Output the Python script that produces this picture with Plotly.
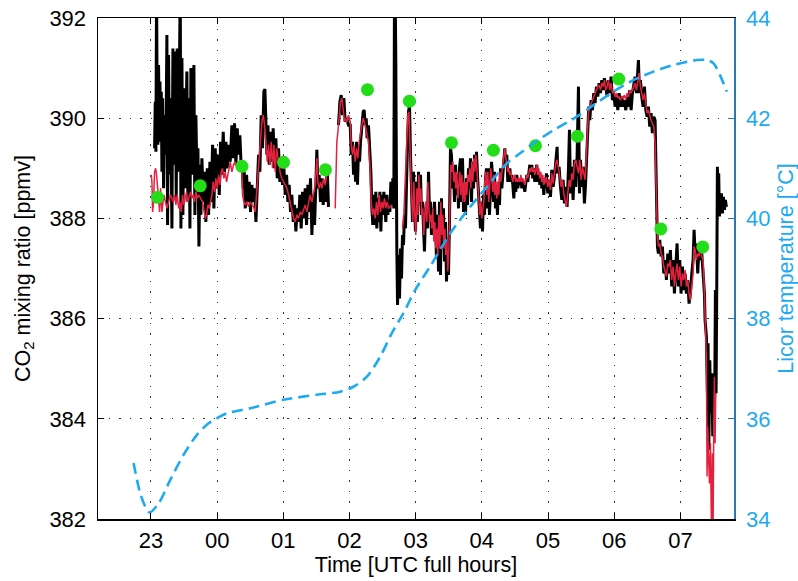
import plotly.graph_objects as go

# ---------------- data (hours; 24 = 00 UTC) ----------------
tick_hours = [23, 24, 25, 26, 27, 28, 29, 30, 31]
tick_labels = ["23", "00", "01", "02", "03", "04", "05", "06", "07"]

# raw CO2 (black)
co2_time_black = [
    23.055, 23.065, 23.075, 23.085, 23.095, 23.105, 23.115, 23.125, 23.136, 23.146, 23.156, 23.166, 23.176, 23.191,
    23.206, 23.226, 23.241, 23.251, 23.266, 23.282, 23.297, 23.317, 23.332, 23.347, 23.367, 23.382, 23.397, 23.412,
    23.428, 23.443, 23.453, 23.468, 23.483, 23.498, 23.513, 23.528, 23.543, 23.558, 23.574, 23.589, 23.604, 23.619,
    23.634, 23.649, 23.664, 23.679, 23.694, 23.710, 23.725, 23.740, 23.755, 23.770, 23.790, 23.810, 23.830, 23.851,
    23.871, 23.891, 23.911, 23.931, 23.951, 23.971, 23.992, 24.012, 24.032, 24.052, 24.072, 24.092, 24.112, 24.133,
    24.153, 24.173, 24.198, 24.223, 24.243, 24.263, 24.284, 24.304, 24.324, 24.344, 24.364, 24.379, 24.394, 24.409,
    24.425, 24.445, 24.465, 24.485, 24.505, 24.525, 24.545, 24.566, 24.586, 24.606, 24.626, 24.646, 24.666, 24.686,
    24.706, 24.722, 24.737, 24.752, 24.767, 24.787, 24.807, 24.827, 24.847, 24.867, 24.888, 24.908, 24.928, 24.948,
    24.968, 24.988, 25.009, 25.029, 25.049, 25.069, 25.089, 25.109, 25.129, 25.150, 25.170, 25.190, 25.210, 25.230,
    25.250, 25.270, 25.291, 25.311, 25.331, 25.351, 25.371, 25.391, 25.411, 25.432, 25.452, 25.472, 25.492, 25.507,
    25.522, 25.542, 25.562, 25.583, 25.603, 25.623, 25.643, 25.663, 25.683, 25.760,
    25.834, 25.855, 25.875, 25.895, 25.915, 25.935, 25.960, 25.985, 26.011, 26.026, 26.046, 26.061, 26.076, 26.091,
    26.106, 26.121, 26.136, 26.152, 26.167, 26.187, 26.207, 26.222, 26.237, 26.252, 26.267, 26.287, 26.308, 26.323,
    26.338, 26.353, 26.368, 26.383, 26.398, 26.413, 26.428, 26.444, 26.459, 26.474, 26.489, 26.504, 26.519, 26.534,
    26.549, 26.564, 26.580, 26.595, 26.610, 26.625, 26.640, 26.655, 26.670, 26.680, 26.690, 26.700, 26.705, 26.715,
    26.726, 26.741, 26.756, 26.771, 26.786, 26.801, 26.816, 26.831, 26.846, 26.861, 26.877, 26.892, 26.907, 26.922,
    26.937, 26.952, 26.967, 26.982, 26.997, 27.013, 27.028, 27.043, 27.058, 27.073, 27.088, 27.103, 27.118, 27.133,
    27.148, 27.164, 27.179, 27.194, 27.209, 27.224, 27.239, 27.254, 27.269, 27.284, 27.300, 27.315, 27.330, 27.345,
    27.360, 27.375, 27.390, 27.405, 27.420, 27.436, 27.451, 27.466, 27.481, 27.496, 27.511, 27.526, 27.541, 27.556,
    27.572, 27.587, 27.602, 27.617, 27.632, 27.647, 27.662, 27.677, 27.692, 27.708, 27.723, 27.738, 27.753, 27.768,
    27.783, 27.798, 27.813, 27.828, 27.844, 27.859, 27.874, 27.889, 27.904, 27.919, 27.934, 27.949, 27.964, 27.979,
    27.995, 28.010, 28.025, 28.040, 28.055, 28.070, 28.085, 28.100, 28.115, 28.131, 28.146, 28.161, 28.176, 28.191,
    28.206, 28.221, 28.236, 28.251, 28.267, 28.282, 28.302, 28.317, 28.332, 28.347, 28.362, 28.377, 28.392, 28.408,
    28.423, 28.438, 28.453, 28.468, 28.483, 28.498, 28.513, 28.528, 28.543, 28.558, 28.574, 28.589, 28.604, 28.619,
    28.634, 28.649, 28.664, 28.679, 28.694, 28.709, 28.725, 28.740, 28.755, 28.770, 28.785, 28.800, 28.815, 28.830,
    28.845, 28.861, 28.876, 28.891, 28.906, 28.921, 28.936, 28.951,
    28.956, 28.976, 28.996, 29.016, 29.037, 29.057, 29.077, 29.097, 29.117, 29.137, 29.147, 29.167, 29.188, 29.208,
    29.228, 29.248, 29.268, 29.288, 29.308, 29.324, 29.339, 29.359, 29.379, 29.399, 29.419, 29.439, 29.460, 29.475,
    29.490, 29.510, 29.530, 29.550, 29.565, 29.580, 29.600, 29.616, 29.631, 29.651, 29.671, 29.691, 29.711, 29.731,
    29.752, 29.772, 29.792, 29.812, 29.832, 29.852, 29.872, 29.893, 29.913, 29.933, 29.953, 29.973, 29.993, 30.013,
    30.034, 30.054, 30.074, 30.094, 30.114, 30.134, 30.154, 30.175, 30.195, 30.215, 30.235, 30.255, 30.275, 30.295,
    30.316, 30.336, 30.356, 30.366, 30.381, 30.396, 30.416, 30.436, 30.457, 30.477, 30.497, 30.517, 30.537, 30.557,
    30.577, 30.598, 30.618, 30.633, 30.643, 30.653, 30.668, 30.688, 30.708, 30.728, 30.749, 30.769, 30.789, 30.809,
    30.829, 30.849, 30.869, 30.889, 30.910, 30.930, 30.950, 30.970, 30.990, 31.010, 31.031, 31.051, 31.071, 31.091,
    31.111, 31.131, 31.151, 31.172, 31.192, 31.207, 31.222, 31.242, 31.262, 31.282, 31.303, 31.323, 31.343, 31.363,
    31.373, 31.393, 31.408, 31.418, 31.429, 31.444, 31.459, 31.474, 31.489, 31.504, 31.519, 31.529, 31.539, 31.549,
    31.559, 31.569, 31.579, 31.589, 31.604, 31.620, 31.635, 31.650, 31.665, 31.680, 31.695,
]
co2_black = [
    389.40, 390.33, 389.33, 392.60, 390.06, 389.47, 391.06, 389.86, 390.73, 389.53, 390.53, 388.93, 390.40, 388.60,
    390.06, 389.27, 391.66, 387.87, 391.26, 388.87, 390.40, 387.80, 391.39, 389.07, 391.33, 388.40, 391.39, 388.93,
    390.73, 392.60, 387.80, 391.20, 388.07, 390.60, 388.60, 390.06, 390.93, 388.33, 390.40, 387.80, 391.00, 388.87,
    390.20, 391.06, 388.07, 390.06, 388.93, 389.40, 387.44, 389.07, 388.07, 389.20, 388.33, 388.93, 387.93, 389.00,
    388.07, 389.13, 388.33, 389.47, 388.20, 389.40, 388.60, 389.27, 388.47, 389.53, 388.87, 389.73, 388.93, 389.53,
    389.00, 389.47, 389.13, 389.86, 389.20, 389.90, 389.07, 389.80, 389.27, 389.66, 389.00, 389.13, 388.60, 388.93,
    388.20, 388.87, 388.33, 388.73, 388.13, 388.67, 388.33, 388.60, 387.93, 388.73, 389.27, 388.93, 390.06, 389.40,
    390.53, 390.58, 390.06, 389.27, 389.86, 389.07, 389.73, 389.13, 389.80, 389.00, 389.60, 388.80, 389.40, 388.73,
    389.20, 388.67, 389.00, 388.47, 388.87, 388.33, 388.67, 388.13, 388.47, 387.93, 388.27, 387.74, 388.20, 387.93,
    388.47, 387.80, 388.53, 388.00, 388.60, 387.87, 388.67, 388.13, 388.80, 387.67, 388.47, 387.87, 388.67, 389.37,
    388.60, 388.87, 388.33, 388.80, 388.27, 388.73, 388.33, 389.00, 388.23, None,
    389.86, 390.33, 390.46, 390.06, 390.40, 389.93, 390.00, 389.86, 389.86, 389.27, 389.53, 388.87, 389.40, 388.73,
    389.53, 388.67, 389.40, 389.13, 389.53, 389.80, 390.13, 390.16, 389.86, 390.00, 389.60, 389.86, 389.40, 388.93,
    388.20, 387.87, 388.47, 387.87, 388.53, 387.80, 388.40, 387.93, 388.53, 387.74, 388.47, 388.07, 388.53, 388.20,
    387.93, 388.47, 388.07, 388.33, 388.13, 388.73, 388.27, 388.80, 388.20, 392.60, 392.60, 391.13, 388.00, 387.40,
    386.27, 387.27, 386.40, 387.40, 386.80, 387.67, 387.47, 388.07, 387.80, 389.07, 389.53, 390.13, 390.26, 389.27,
    388.60, 387.93, 388.93, 388.20, 387.74, 388.73, 387.93, 388.93, 388.33, 388.87, 388.07, 388.33, 387.74, 387.34,
    388.07, 388.33, 387.80, 388.93, 388.07, 388.33, 387.67, 388.20, 387.93, 388.33, 387.80, 387.20, 388.07, 386.94,
    388.33, 386.87, 388.40, 387.40, 388.20, 387.14, 387.93, 386.74, 387.40, 386.87, 387.93, 389.40, 389.27, 388.60,
    388.93, 388.33, 389.07, 388.47, 388.87, 388.20, 389.00, 389.20, 388.33, 389.20, 388.13, 388.60, 388.07, 388.80,
    388.27, 389.00, 388.60, 389.20, 388.33, 389.13, 388.60, 389.27, 388.73, 389.33, 388.87, 388.47, 388.07, 387.80,
    388.33, 387.74, 388.47, 388.07, 388.80, 389.00, 388.20, 389.00, 388.07, 388.60, 389.13, 388.87, 388.33, 388.93,
    388.20, 388.53, 388.07, 388.73, 388.27, 389.00, 388.60, 388.87, 389.20, 389.40, 389.07, 389.27, 388.73, 388.87,
    389.00, 388.73, 388.87, 388.67, 388.40, 388.80, 388.53, 388.87, 388.60, 388.73, 388.67, 388.80, 388.60, 388.73,
    388.67, 388.53, 388.67, 388.87, 388.73, 388.93, 389.07, 388.87, 389.07, 388.80, 389.00, 388.73, 388.93, 389.07,
    388.73, 388.93, 388.67, 388.87, 388.60, 388.80, 388.47, 388.73,
    388.63, 388.90, 388.50, 388.77, 388.43, 388.97, 388.63, 388.83, 389.17, 389.43, 388.90, 389.03, 388.63, 388.37,
    388.77, 388.30, 388.63, 388.23, 388.97, 389.77, 388.50, 389.03, 388.37, 389.17, 388.63, 389.23, 390.63, 388.50,
    389.17, 388.63, 389.03, 388.30, 388.63, 389.03, 389.83, 390.23, 389.96, 390.36, 390.16, 390.50, 390.30, 390.63,
    390.43, 390.70, 390.50, 390.76, 390.56, 390.80, 390.63, 390.43, 390.76, 390.50, 390.83, 390.36, 390.50, 390.23,
    390.43, 390.16, 390.50, 390.23, 390.43, 390.23, 390.36, 390.16, 390.43, 390.23, 390.56, 390.16, 390.50, 390.63,
    390.83, 390.50, 390.90, 391.16, 390.50, 390.76, 390.43, 390.23, 390.63, 390.16, 390.03, 390.23, 389.83, 390.10,
    389.70, 390.03, 389.96, 389.17, 388.17, 387.44, 387.30, 387.57, 387.24, 387.44, 386.90, 387.17, 386.77, 387.30,
    386.90, 387.37, 386.64, 387.17, 386.50, 387.04, 387.50, 386.64, 387.17, 386.50, 387.04, 386.57, 386.90, 386.50,
    386.77, 386.30, 386.50, 386.90, 387.17, 387.77, 387.30, 387.50, 386.90, 387.44, 387.17, 387.30, 386.84, 386.50,
    385.97, 385.64, 384.51, 385.51, 383.38, 385.17, 384.11, 384.91, 383.65, 384.11, 384.51, 386.57, 384.51, 386.50,
    389.03, 388.37, 388.90, 388.04, 388.30, 388.50, 388.10, 388.43, 388.17, 388.37, 388.23,
]

# filtered CO2 (red)
co2_time_red = [
    23.005, 23.015, 23.025, 23.040, 23.055, 23.070, 23.085, 23.100, 23.115, 23.131, 23.146, 23.166, 23.196, 23.216,
    23.241, 23.266, 23.292, 23.317, 23.337, 23.357, 23.377, 23.397, 23.418, 23.438, 23.458, 23.478, 23.498, 23.518,
    23.538, 23.558, 23.579, 23.599, 23.619, 23.639, 23.659, 23.679, 23.699, 23.720, 23.780, 23.800, 23.820, 23.840,
    23.861, 23.881, 23.901, 23.921, 23.941, 23.961, 23.981, 24.002, 24.022, 24.042, 24.062, 24.082, 24.102, 24.122,
    24.143, 24.173, 24.198, 24.223, 24.248, 24.273, 24.299, 24.324, 24.374, 24.384, 24.404, 24.425, 24.450, 24.475,
    24.500, 24.525, 24.550, 24.576, 24.601, 24.626, 24.651, 24.676, 24.696, 24.717, 24.737, 24.757, 24.777, 24.797,
    24.817, 24.837, 24.857, 24.878, 24.898, 24.918, 24.938, 24.958, 24.978, 25.004, 25.029, 25.054, 25.079, 25.104,
    25.129, 25.155, 25.180, 25.205, 25.230, 25.255, 25.281, 25.306, 25.331, 25.356, 25.381, 25.406, 25.432, 25.457,
    25.482, 25.507, 25.522, 25.542, 25.562, 25.583, 25.608, 25.633, 25.658, 25.683, 25.735,
    25.784, 25.794, 25.809, 25.825, 25.845, 25.865, 25.885, 25.905, 25.925,
    25.935, 25.960, 25.985, 26.011, 26.026, 26.046, 26.066, 26.086, 26.106, 26.126, 26.146, 26.167, 26.187, 26.207,
    26.227, 26.247, 26.267, 26.287, 26.308, 26.328, 26.348, 26.368, 26.388, 26.408, 26.428, 26.449, 26.469, 26.489,
    26.509, 26.529, 26.549, 26.569, 26.590, 26.640, 26.720,
    26.801, 26.821, 26.841, 26.861, 26.882, 26.897, 26.912, 26.927, 26.942, 26.957, 26.972, 26.987, 27.002, 27.018,
    27.033, 27.048, 27.063, 27.078, 27.093, 27.108, 27.123, 27.138, 27.153, 27.169, 27.184, 27.199, 27.214, 27.229,
    27.244, 27.259, 27.274, 27.290, 27.305, 27.320, 27.335, 27.350, 27.365, 27.380, 27.395, 27.410, 27.426, 27.441,
    27.456, 27.471, 27.486, 27.501, 27.516, 27.531, 27.546, 27.562, 27.577, 27.592, 27.607, 27.622, 27.637, 27.652,
    27.667, 27.682, 27.697, 27.713, 27.728, 27.743, 27.758, 27.773, 27.788, 27.803, 27.818, 27.833, 27.848, 27.864,
    27.879, 27.894, 27.909, 27.924, 27.939, 27.954, 27.969, 27.984, 28.000, 28.015, 28.030, 28.045, 28.060, 28.075,
    28.090, 28.105, 28.120, 28.135, 28.151, 28.166, 28.181, 28.196, 28.211, 28.226, 28.241, 28.256, 28.271, 28.287,
    28.302, 28.317, 28.332, 28.347, 28.362, 28.377, 28.392, 28.408, 28.423, 28.438, 28.453, 28.468, 28.483, 28.498,
    28.513, 28.528, 28.543, 28.558, 28.574, 28.589, 28.604, 28.619, 28.634, 28.649, 28.664, 28.679, 28.694, 28.709,
    28.725, 28.740, 28.755, 28.770, 28.785, 28.800, 28.815, 28.830, 28.845, 28.861, 28.876, 28.891, 28.906, 28.921,
    28.936, 28.951,
    28.956, 28.976, 28.996, 29.016, 29.037, 29.057, 29.077, 29.097, 29.117, 29.137, 29.157, 29.178, 29.198, 29.218,
    29.238, 29.258, 29.278, 29.298, 29.319, 29.339, 29.359, 29.379, 29.399, 29.419, 29.439, 29.460, 29.480, 29.500,
    29.520, 29.540, 29.560, 29.580, 29.595, 29.611, 29.631, 29.651, 29.671, 29.691, 29.711, 29.731, 29.752, 29.772,
    29.792, 29.812, 29.832, 29.852, 29.872, 29.893, 29.913, 29.933, 29.953, 29.973, 29.993, 30.013, 30.034, 30.054,
    30.074, 30.094, 30.114, 30.134, 30.154, 30.175, 30.195, 30.215, 30.235, 30.255, 30.275, 30.295, 30.316, 30.336,
    30.356, 30.376, 30.396, 30.416, 30.436, 30.457, 30.477, 30.497, 30.517, 30.537, 30.557, 30.577, 30.598, 30.618,
    30.628, 30.638, 30.653, 30.668, 30.688, 30.708, 30.728, 30.749, 30.769, 30.789, 30.809, 30.829, 30.849, 30.869,
    30.889, 30.910, 30.930, 30.950, 30.970, 30.990, 31.010, 31.031, 31.051, 31.071, 31.091, 31.111, 31.131, 31.151,
    31.172, 31.192, 31.207, 31.222, 31.242, 31.262, 31.282, 31.303, 31.323, 31.343, 31.363, 31.378, 31.393, 31.403,
    31.413, 31.424, 31.439, 31.454, 31.469, 31.484, 31.494, 31.504, 31.514, 31.524, 31.534,
]
co2_red = [
    388.87, 388.73, 388.13, 388.33, 388.93, 389.00, 388.87, 388.60, 388.33, 388.13, 388.60, 388.13, 388.47, 388.33,
    388.20, 388.33, 388.47, 388.40, 388.33, 388.47, 388.27, 388.47, 388.20, 388.33, 388.13, 388.47, 388.27, 388.40,
    388.53, 388.33, 388.47, 388.53, 388.40, 388.47, 388.33, 388.53, 388.40, 388.47, 388.33, 388.13, 388.00, 388.07,
    388.27, 388.20, 388.33, 388.47, 388.73, 388.53, 388.80, 388.60, 388.87, 388.67, 388.93, 389.00, 388.80, 388.93,
    388.73, 389.00, 389.13, 388.93, 389.07, 389.13, 389.00, 389.07, 388.93, 388.47, 388.33, 388.27, 388.33, 388.23,
    388.33, 388.27, 388.23, 388.13, 388.60, 388.87, 389.40, 389.93, 390.06, 389.86, 389.53, 389.13, 389.47, 389.07,
    389.53, 389.00, 389.47, 388.93, 389.40, 389.20, 389.00, 388.87, 388.80, 388.73, 388.67, 388.60, 388.47, 388.33,
    388.13, 388.00, 387.93, 388.07, 388.00, 388.13, 388.07, 388.20, 388.27, 388.13, 388.33, 388.47, 388.33, 388.53,
    388.67, 389.20, 388.73, 388.60, 388.73, 388.60, 388.80, 388.67, 388.87, 388.93, None,
    388.20, 388.73, 389.53, 389.73, 390.06, 390.33, 390.40, 390.20, 389.93,
    390.00, 389.93, 390.06, 389.93, 389.47, 389.27, 389.47, 389.13, 389.40, 389.20, 389.53, 389.73, 389.86, 390.00,
    389.86, 389.80, 389.66, 389.53, 389.07, 388.33, 388.07, 388.20, 388.00, 388.33, 388.07, 388.47, 388.13, 388.33,
    388.20, 388.40, 388.20, 388.33, 388.20, 388.27, None,
    387.80, 388.07, 388.73, 389.27, 390.06, 390.13, 389.40, 389.00, 388.33, 387.93, 388.73, 388.07, 387.67, 388.60,
    388.07, 388.87, 388.33, 388.60, 388.07, 388.20, 387.67, 388.07, 388.33, 387.93, 388.73, 388.20, 387.93, 388.07,
    387.80, 388.20, 387.54, 387.93, 387.40, 387.80, 387.27, 388.07, 387.40, 388.33, 387.67, 388.07, 387.40, 387.80,
    387.27, 387.54, 386.94, 387.40, 388.07, 389.07, 388.93, 389.13, 388.73, 388.93, 388.60, 388.93, 388.40, 388.80,
    388.93, 388.47, 388.87, 388.33, 388.73, 388.33, 388.73, 388.47, 388.87, 388.73, 389.00, 388.60, 389.13, 388.73,
    389.20, 388.93, 389.27, 389.00, 388.60, 388.20, 388.07, 388.33, 388.00, 388.20, 388.33, 388.73, 388.93, 388.47,
    388.93, 388.33, 388.73, 389.00, 388.80, 388.53, 388.87, 388.47, 388.73, 388.40, 388.73, 388.47, 388.93, 388.73,
    388.93, 389.13, 389.27, 389.40, 389.20, 389.07, 388.93, 389.00, 388.87, 388.93, 388.80, 388.73, 388.80, 388.87,
    388.73, 388.80, 388.73, 388.80, 388.73, 388.87, 388.73, 388.80, 388.73, 388.67, 388.77, 388.87, 388.80, 388.93,
    389.00, 388.93, 389.03, 388.93, 389.00, 388.87, 389.00, 389.07, 388.87, 389.00, 388.80, 388.93, 388.73, 388.87,
    388.67, 388.80,
    388.70, 388.83, 388.63, 388.77, 388.57, 388.90, 388.70, 388.90, 389.10, 389.17, 389.03, 388.83, 388.63, 388.77,
    388.50, 388.37, 388.23, 388.50, 388.77, 388.63, 388.90, 388.77, 389.10, 389.17, 389.03, 388.90, 389.17, 388.77,
    389.03, 388.90, 388.77, 389.30, 389.63, 390.10, 390.23, 390.30, 390.36, 390.43, 390.50, 390.56, 390.63, 390.66,
    390.56, 390.70, 390.63, 390.76, 390.56, 390.63, 390.76, 390.56, 390.70, 390.50, 390.53, 390.43, 390.50, 390.40,
    390.43, 390.36, 390.43, 390.40, 390.46, 390.36, 390.50, 390.43, 390.56, 390.50, 390.56, 390.63, 390.70, 390.56,
    390.76, 390.90, 390.63, 390.50, 390.36, 390.50, 390.30, 390.10, 390.16, 390.03, 389.96, 389.90, 389.83, 389.50,
    388.83, 388.17, 387.64, 387.44, 387.50, 387.30, 387.24, 387.04, 386.90, 386.84, 387.10, 387.04, 387.17, 386.77,
    387.04, 386.64, 386.90, 387.10, 386.77, 387.04, 386.64, 386.90, 386.77, 386.97, 386.64, 386.77, 386.50, 386.37,
    386.64, 386.90, 387.44, 387.37, 387.17, 387.30, 387.24, 387.44, 387.24, 387.17, 386.50, 385.84, 385.17, 382.85,
    383.84, 383.31, 382.71, 383.51, 381.85, 383.31, 381.85, 383.84, 384.84, 383.51, 384.51,
]

# hourly / reference CO2 values (green dots)
hourly_time = [23.100, 23.745, 24.375, 25.003, 25.637, 26.272, 26.906, 27.541, 28.175, 28.810, 29.444, 30.069, 30.704, 31.338]
hourly_co2 = [388.42, 388.65, 389.04, 389.12, 388.97, 390.57, 390.34, 389.51, 389.36, 389.45, 389.64, 390.78, 387.79, 387.43]

# Licor temperature (blue dashed, right axis)
temp_time = [22.737, 22.838, 22.914, 22.979, 23.115, 23.292, 23.492, 23.695, 23.870, 23.997, 24.148, 24.500, 25.003,
             25.508, 25.860, 26.060, 26.263, 26.464, 26.640, 26.816, 26.992, 27.219, 27.521, 27.823, 28.076, 28.378,
             28.579, 28.780, 29.082, 29.435, 29.686, 29.988, 30.290, 30.592, 30.894, 31.248, 31.399, 31.498, 31.598,
             31.701]
licor_temp = [35.12, 34.51, 34.25, 34.13, 34.31, 34.78, 35.28, 35.68, 35.91, 36.01, 36.11, 36.21, 36.38,
              36.48, 36.54, 36.64, 36.84, 37.24, 37.71, 38.11, 38.57, 39.04, 39.70, 40.23, 40.63, 41.10,
              41.30, 41.50, 41.76, 42.03, 42.26, 42.53, 42.76, 42.93, 43.06, 43.16, 43.16, 43.10, 42.86,
              42.53]

# ---------------- styling ----------------
FONT = "Liberation Sans, Arial, Helvetica, sans-serif"
BLUE = "#1eaaf0"
SPINE_BLUE = "#2a7ab0"

fig = go.Figure()
fig.add_trace(go.Scatter(x=co2_time_black, y=co2_black, mode="lines",
                         line=dict(color="#000000", width=3), connectgaps=False,
                         showlegend=False, yaxis="y"))
fig.add_trace(go.Scatter(x=co2_time_red, y=co2_red, mode="lines",
                         line=dict(color="#e3213f", width=1.5), connectgaps=False,
                         showlegend=False, yaxis="y"))
fig.add_trace(go.Scatter(x=hourly_time, y=hourly_co2, mode="markers",
                         marker=dict(color="#22dd18", size=13, line=dict(width=0)),
                         showlegend=False, yaxis="y"))
fig.add_trace(go.Scatter(x=temp_time, y=licor_temp, mode="lines",
                         line=dict(color=BLUE, width=2.6, dash="11px,6px", shape="spline", smoothing=0.8),
                         showlegend=False, yaxis="y2"))

fig.update_layout(
    width=798, height=581,
    margin=dict(l=98, r=64, t=18, b=62, autoexpand=False),
    paper_bgcolor="white", plot_bgcolor="white",
    font=dict(family=FONT, size=21, color="black"),
    xaxis=dict(
        range=[22.2, 31.81], tickmode="array", tickvals=tick_hours, ticktext=tick_labels,
        ticks="inside", ticklen=6, tickwidth=1, tickcolor="black",
        showline=True, linecolor="black", linewidth=1.5, mirror="ticks",
        showgrid=True, gridcolor="#333333", gridwidth=1, griddash="1.5px,9px",
        zeroline=False, ticklabelstandoff=1, tickfont=dict(size=22),
        title=dict(text="Time [UTC full hours]", standoff=3, font=dict(size=21.5)),
        automargin=False,
    ),
    yaxis=dict(
        range=[382, 392], tickmode="array", tickvals=[382, 384, 386, 388, 390, 392],
        ticks="inside", ticklen=6, tickwidth=1, tickcolor="black",
        showline=True, linecolor="black", linewidth=1.5, mirror=False,
        showgrid=True, gridcolor="#333333", gridwidth=1, griddash="1.5px,9px",
        zeroline=False, ticklabelstandoff=6, tickfont=dict(size=22),
        title=dict(text="CO<sub>2</sub> mixing ratio [ppmv]", standoff=13, font=dict(size=21.5)),
        automargin=False,
    ),
    yaxis2=dict(
        range=[34, 44], tickmode="array", tickvals=[34, 36, 38, 40, 42, 44],
        overlaying="y", side="right", anchor="x",
        ticks="inside", ticklen=6, tickwidth=1, tickcolor=SPINE_BLUE,
        showline=True, linecolor=SPINE_BLUE, linewidth=1.5,
        showgrid=False, zeroline=False, ticklabelstandoff=6,
        tickfont=dict(color=BLUE, size=22),
        title=dict(text="Licor temperature [°C]", standoff=8, font=dict(color=BLUE, size=21.5)),
        automargin=False,
    ),
)

fig.write_html(
    "out.html",
    config={"displayModeBar": False, "staticPlot": True},
    post_script="document.body.style.margin='0';document.body.style.overflow='hidden';",
)
